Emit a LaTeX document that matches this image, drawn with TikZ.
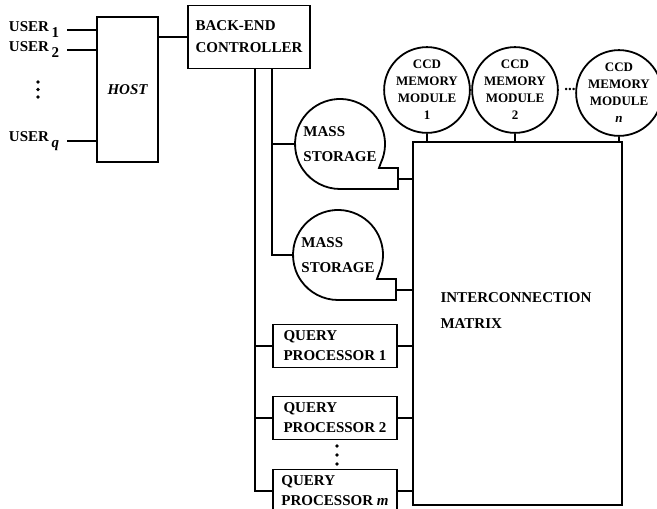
\documentclass[tikz,border=0pt]{standalone}
\usepackage{fontspec}
\setmainfont{Liberation Serif}
\usetikzlibrary{positioning,calc}

\begin{document}
\begin{tikzpicture}[x=0.5pt,y=0.5pt,line width=0.9pt,
  every node/.style={font=\fontsize{7.5}{9}\selectfont\bfseries},
  blk/.style={draw,rectangle,align=left,inner sep=0pt},
  ccd/.style={draw,circle,minimum size=41pt,inner sep=0pt,align=center,
    font=\fontsize{6.5}{8.5}\selectfont\bfseries},
  store/.style={circle,minimum size=45pt,inner sep=0pt,outer sep=0pt,align=left},
  user/.style={anchor=east,inner xsep=0pt,outer xsep=4pt},
  dots/.style={inner sep=0pt}]
  \useasboundingbox (0,0) rectangle (657,508);
  % host side
  \node[blk,minimum width=30.5pt,minimum height=72.5pt,
    font=\fontsize{7.5}{9}\selectfont\bfseries\itshape] (host) at (127.5,418.5) {HOST};
  \node[user] (u1) at (67,478) {USER\,\raisebox{-3pt}{1}};
  \node[user] (u2) at (67,458) {USER\,\raisebox{-3pt}{2}};
  \node[user] (uq) at (67,367) {USER\,\raisebox{-3pt}{\textit{q}}};
  \coordinate (udots) at (38,418.5);
  \foreach \d in {-1,0,1} \fill ($(udots)+(0,7.5*\d)$) circle (0.9pt);
  \foreach \u in {u1,u2,uq} \draw (\u.east) -- (\u.east -| host.west);
  \node[blk,minimum width=61pt,minimum height=31.5pt] (ctrl) at (249,471) {BACK-END\\[2pt]CONTROLLER};
  \draw (host.east |- ctrl.west) -- (ctrl.west);
  % matrix and memory modules
  \node[draw,minimum width=104.5pt,minimum height=181.5pt] (imx) at (517.5,184.5) {};
  \node[align=left] (imxlabel) at (516,197) {INTERCONNECTION\\[4pt]MATRIX};
  \node[ccd] (mm1) at (427,418) {CCD\\MEMORY\\MODULE\\1};
  \node[ccd] (mm2) at (515,418) {CCD\\MEMORY\\MODULE\\2};
  \node[ccd,minimum size=39pt] (mmn) at (619,415) {CCD\\MEMORY\\MODULE\\\textit{n}};
  \node[dots] (mdots) at (570,418) {...};
  \foreach \m in {mm1,mm2,mmn} \draw (\m.south) -- (\m.south |- imx.north);
  % mass storage
  \node[store] (ms1) at (340,364) {MASS\\[3.5pt]STORAGE};
  \node[store] (ms2) at (338,253) {MASS\\[3.5pt]STORAGE};
  \foreach \s in {ms1,ms2} {
    \draw (\s.-25) arc[start angle=-25,end angle=270,radius=22.5pt]
      -- ++(58,0) -- ++(0,21) -- ++(-19,0) -- cycle;
    \coordinate (\s tail) at ($(\s.south)+(58,10)$);
    \draw (\s tail) -- (\s tail -| imx.west);
  }
  % query processors
  \node[blk,minimum width=62pt,minimum height=21.5pt] (qp1) at (335,162) {QUERY\\[1pt]PROCESSOR 1};
  \node[blk,minimum width=62pt,minimum height=21.5pt] (qp2) at (335,90) {QUERY\\[1pt]PROCESSOR 2};
  \node[blk,minimum width=62pt,minimum height=21.5pt] (qpm) at (335,17) {QUERY\\[1pt]PROCESSOR \textit{m}};
  \coordinate (qdots) at (337,53);
  \foreach \d in {-1,0,1} \fill ($(qdots)+(0,9*\d)$) circle (0.9pt);
  \foreach \q in {qp1,qp2,qpm} \draw (\q.east) -- (\q.east -| imx.west);
  % controller buses
  \coordinate (busA) at (255,0);
  \coordinate (busB) at (272,0);
  \draw (ctrl.south -| busA) |- (qpm.west);
  \draw (qp1.west) -- (qp1.west -| busA);
  \draw (qp2.west) -- (qp2.west -| busA);
  \draw (ctrl.south -| busB) |- (ms2.west);
  \draw (ms1.west) -- (ms1.west -| busB);
\end{tikzpicture}
\end{document}
